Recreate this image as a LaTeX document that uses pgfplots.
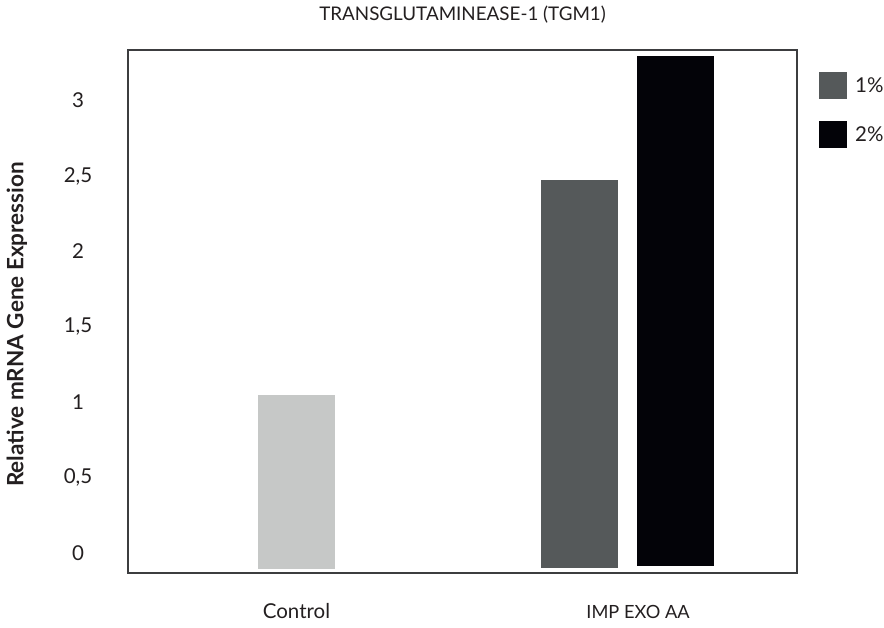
\documentclass[border=0pt]{standalone}
\usepackage{pgfplots}
\pgfplotsset{compat=1.18}
\usepackage{fontspec}
\setmainfont{Lato}
\definecolor{ctrl}{HTML}{C6C8C7}
\definecolor{pone}{HTML}{55595A}
\definecolor{ptwo}{HTML}{030308}
\definecolor{frame}{HTML}{3C3D3F}
\definecolor{txt}{HTML}{231F20}

\begin{document}
\begin{tikzpicture}[font=\fontsize{20.5}{24}\selectfont, text=txt]
\path[use as bounding box] (-128pt,-55pt) rectangle (756pt,573pt);
\begin{axis}[
    at={(0pt,0pt)}, anchor=south west,
    scale only axis,
    width=669pt, height=523pt,
    xmin=0.491, xmax=2.512,
    ymin=-0.133, ymax=3.336,
    axis line style={frame, line width=2pt},
    major tick length=0pt,
    tick style={draw=none},
    ytick={0,0.5,1,1.5,2,2.5,3},
    /pgf/number format/.cd, use comma, assume math mode=true,
    /pgfplots/.cd,
    yticklabel style={anchor=center, xshift=-50pt},
    xtick={1,2.032},
    xticklabels={Control,{\fontsize{18.2}{22}\selectfont IMP EXO AA}},
    xticklabel style={anchor=base, yshift=-46pt},
    title={TRANSGLUTAMINEASE-1 (TGM1)},
    title style={at={(axis description cs:0.5,1)}, anchor=center, yshift=29pt,
      font=\fontsize{18.8}{22}\selectfont},
    ylabel={\fontsize{22.5}{26}\selectfont\bfseries Relative mRNA Gene Expression},
    every axis y label/.style={at={(axis description cs:0,0.5)}, shift={(-111pt,-13pt)}, rotate=90, anchor=center},
    legend style={at={(axis description cs:1,1)}, anchor=north west,
      xshift=22pt, yshift=-22pt, draw=none, fill=none, inner sep=0pt,
      row sep=22pt, nodes={inner sep=0pt, anchor=west}},
    legend cell align=left,
    /tikz/every odd column/.append style={column sep=8pt},
    legend image code/.code={\fill (0pt,-13.5pt) rectangle (28pt,13.5pt);},
  ]
  % Control
  \addplot[fill=ctrl, draw=none, forget plot] coordinates {
    (0.8837,-0.108) (0.8837,1.046) (1.1163,1.046) (1.1163,-0.108)
  } -- cycle;
  % IMP EXO AA 1%
  \addplot[fill=pone, draw=none] coordinates {
    (1.7387,-0.100) (1.7387,2.472) (1.9713,2.472) (1.9713,-0.100)
  } -- cycle;
  \addlegendentry{1\%}
  % IMP EXO AA 2%
  \addplot[fill=ptwo, draw=none] coordinates {
    (2.0287,-0.086) (2.0287,3.296) (2.2613,3.296) (2.2613,-0.086)
  } -- cycle;
  \addlegendentry{2\%}
\end{axis}
\end{tikzpicture}
\end{document}
